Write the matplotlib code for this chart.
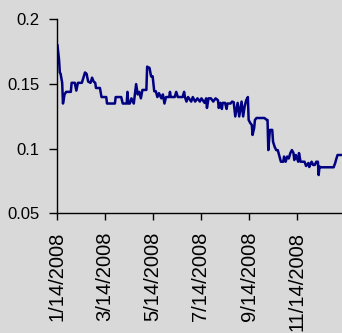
import matplotlib
matplotlib.use("Agg")
import matplotlib.pyplot as plt
import pandas as pd

plt.rcParams['font.family'] = ['Liberation Sans', 'DejaVu Sans']

# daily rate observations
dates = [
    "2008-01-14", "2008-01-16", "2008-01-17", "2008-01-18", "2008-01-20", "2008-01-21",
    "2008-01-23", "2008-01-25", "2008-01-31", "2008-02-01", "2008-02-05", "2008-02-07",
    "2008-02-09", "2008-02-14", "2008-02-18", "2008-02-20", "2008-02-22", "2008-02-25",
    "2008-02-27", "2008-02-29", "2008-03-02", "2008-03-03", "2008-03-08", "2008-03-10",
    "2008-03-16", "2008-03-17", "2008-03-27", "2008-03-28", "2008-04-04", "2008-04-06",
    "2008-04-11", "2008-04-12", "2008-04-13", "2008-04-15", "2008-04-17", "2008-04-20",
    "2008-04-23", "2008-04-25", "2008-04-27", "2008-04-29", "2008-05-01", "2008-05-06",
    "2008-05-07", "2008-05-10", "2008-05-12", "2008-05-14", "2008-05-16", "2008-05-18",
    "2008-05-20", "2008-05-22", "2008-05-25", "2008-05-27", "2008-05-29", "2008-05-31",
    "2008-06-04", "2008-06-05", "2008-06-06", "2008-06-11", "2008-06-13", "2008-06-15",
    "2008-06-21", "2008-06-23", "2008-06-24", "2008-06-26", "2008-06-28", "2008-07-02",
    "2008-07-04", "2008-07-07", "2008-07-10", "2008-07-13", "2008-07-15", "2008-07-19",
    "2008-07-21", "2008-07-22", "2008-07-24", "2008-07-27", "2008-07-30", "2008-08-02",
    "2008-08-05", "2008-08-06", "2008-08-08", "2008-08-10", "2008-08-11", "2008-08-14",
    "2008-08-16", "2008-08-17", "2008-08-21", "2008-08-23", "2008-08-25", "2008-08-27",
    "2008-08-30", "2008-09-01", "2008-09-04", "2008-09-06", "2008-09-08", "2008-09-10",
    "2008-09-12", "2008-09-13", "2008-09-15", "2008-09-17", "2008-09-18", "2008-09-20",
    "2008-09-21", "2008-09-23", "2008-10-03", "2008-10-06", "2008-10-07", "2008-10-08",
    "2008-10-10", "2008-10-13", "2008-10-14", "2008-10-16", "2008-10-18", "2008-10-20",
    "2008-10-21", "2008-10-24", "2008-10-27", "2008-10-28", "2008-10-30", "2008-11-01",
    "2008-11-03", "2008-11-05", "2008-11-07", "2008-11-09", "2008-11-10", "2008-11-12",
    "2008-11-15", "2008-11-16", "2008-11-18", "2008-11-23", "2008-11-25", "2008-11-28",
    "2008-11-29", "2008-12-02", "2008-12-04", "2008-12-06", "2008-12-08", "2008-12-10",
    "2008-12-11", "2008-12-12", "2008-12-14", "2008-12-30", "2009-01-01", "2009-01-02",
    "2009-01-04", "2009-01-09",
]
rates = [
    0.180, 0.169, 0.159, 0.158, 0.151, 0.135,
    0.142, 0.144, 0.144, 0.151, 0.151, 0.145,
    0.151, 0.151, 0.159, 0.158, 0.152, 0.151,
    0.155, 0.152, 0.151, 0.147, 0.147, 0.140,
    0.140, 0.135, 0.135, 0.140, 0.140, 0.135,
    0.135, 0.144, 0.135, 0.135, 0.139, 0.135,
    0.150, 0.142, 0.144, 0.139, 0.1455, 0.1455,
    0.1635, 0.1625, 0.156, 0.156, 0.1445, 0.1445,
    0.140, 0.143, 0.139, 0.142, 0.135, 0.140,
    0.140, 0.144, 0.140, 0.140, 0.144, 0.140,
    0.140, 0.144, 0.140, 0.1365, 0.140, 0.1365,
    0.140, 0.1365, 0.139, 0.1365, 0.139, 0.1355,
    0.139, 0.1316, 0.139, 0.139, 0.1365, 0.139,
    0.1375, 0.1316, 0.1355, 0.1308, 0.1355, 0.1355,
    0.1308, 0.135, 0.135, 0.1365, 0.136, 0.125,
    0.1355, 0.125, 0.1365, 0.125, 0.133, 0.1377,
    0.140, 0.1223, 0.120, 0.1184, 0.1107, 0.1161,
    0.1223, 0.1238, 0.1238, 0.1223, 0.1223, 0.099,
    0.1146, 0.1146, 0.1055, 0.1016, 0.099, 0.099,
    0.0967, 0.090, 0.090, 0.094, 0.090, 0.094,
    0.0925, 0.0967, 0.099, 0.0967, 0.0913, 0.0952,
    0.090, 0.0967, 0.090, 0.090, 0.0867, 0.089,
    0.0859, 0.090, 0.0875, 0.0875, 0.090, 0.090,
    0.0797, 0.0862, 0.0857, 0.0857, 0.089, 0.0913,
    0.0952, 0.0952,
]

tick_dates = ["2008-01-14", "2008-03-14", "2008-05-14", "2008-07-14", "2008-09-14", "2008-11-14"]
tick_labels = ["1/14/2008", "3/14/2008", "5/14/2008", "7/14/2008", "9/14/2008", "11/14/2008"]
y_ticks = [0.05, 0.1, 0.15, 0.2]
y_labels = ["0.05", "0.1", "0.15", "0.2"]

bg = '#d9d9d9'
fig = plt.figure(figsize=(3.42, 3.33), dpi=100, facecolor=bg)
ax = fig.add_axes([0.168, 0.359, 0.842, 0.5826], facecolor=bg)

ax.plot(pd.to_datetime(dates), rates, color='#000080', lw=1.8)

ax.set_xlim(pd.Timestamp("2008-01-14"), pd.Timestamp("2009-01-14"))
ax.set_ylim(0.05, 0.2)

ax.set_xticks(pd.to_datetime(tick_dates))
ax.set_xticklabels(tick_labels, rotation=90, fontsize=14.5)
ax.set_yticks(y_ticks)
ax.set_yticklabels(y_labels, fontsize=12)

for s in ['top', 'right']:
    ax.spines[s].set_visible(False)
for s in ['left', 'bottom']:
    ax.spines[s].set_linewidth(1)
    ax.spines[s].set_color('black')
ax.tick_params(axis='x', direction='out', length=5, width=1, pad=8)
ax.tick_params(axis='y', direction='out', length=6, width=1, pad=7)

fig.savefig('out.png', dpi=100, facecolor=bg)
